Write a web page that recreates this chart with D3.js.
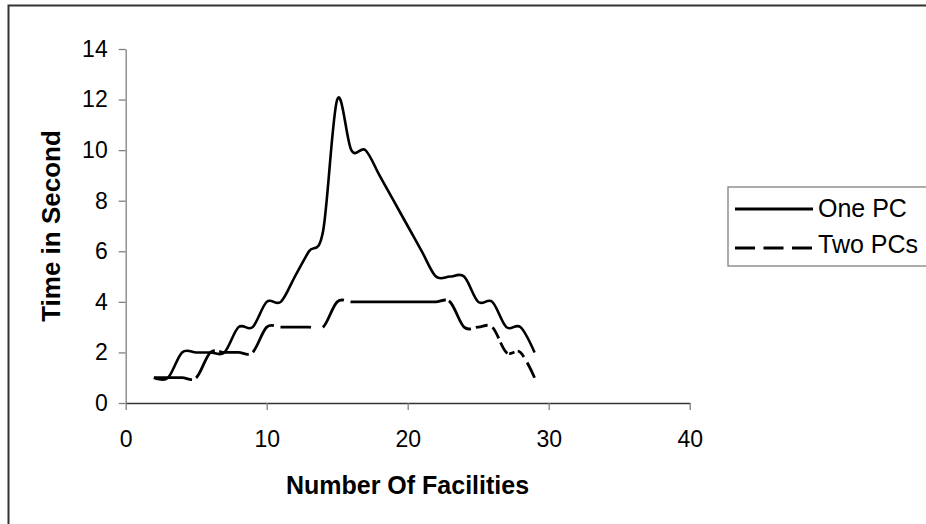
<!DOCTYPE html>
<html>
<head>
<meta charset="utf-8">
<script src="https://cdn.jsdelivr.net/npm/d3@7"></script>
<style>
  body { margin: 0; background: #fff; }
  svg { display: block; }
  text { font-family: "Liberation Sans", Arial, sans-serif; fill: #000; }
</style>
</head>
<body>
<svg id="chart" width="926" height="524"></svg>
<script>
// Run time versus number of facilities, one PC against two PCs
const facilities = d3.range(2, 30);
const onePC  = [1, 1, 2, 2, 2, 2, 3, 3, 4, 4, 5, 6, 6.8, 12, 10, 10, 9, 8, 7, 6, 5, 5, 5, 4, 4, 3, 3, 2];
const twoPCs = [1, 1, 1, 1, 2, 2, 2, 2, 3, 3, 3, 3, 3, 4, 4, 4, 4, 4, 4, 4, 4, 4, 3, 3, 3, 2, 2, 1];
const seriesNames = ["One PC", "Two PCs"];
const xTicks = [0, 10, 20, 30, 40];
const yTicks = [0, 2, 4, 6, 8, 10, 12, 14];

// breaks in the dashed stroke, given as facility ranges along the line
const dashBreaks = [[4.68, 4.98], [6.3, 6.6], [8.7, 9.0], [10.47, 10.94], [13.1, 13.95],
  [15.43, 15.9], [22.65, 22.88], [24.42, 24.77], [25.6, 25.96], [26.43, 26.55],
  [27.02, 27.13], [27.49, 27.73], [28.2, 28.44]];

const svg = d3.select("#chart");

// outer frame
svg.append("rect")
  .attr("x", 8.5).attr("y", 5.5)
  .attr("width", 1000).attr("height", 1000)
  .attr("fill", "none").attr("stroke", "#333").attr("stroke-width", 2);

const x = d3.scaleLinear().domain([0, 40]).range([125.7, 689.7]);
const y = d3.scaleLinear().domain([0, 14]).range([403, 49]);

// y axis
const gy = svg.append("g")
  .attr("transform", `translate(${x(0)},0)`)
  .call(d3.axisLeft(y).tickValues(yTicks).tickSize(7).tickSizeOuter(0).tickPadding(11));
gy.select(".domain").attr("stroke", "#808080").attr("stroke-width", 1.3);
gy.selectAll(".tick line").attr("stroke", "#808080").attr("stroke-width", 1.3);
gy.selectAll(".tick text").attr("font-size", 23).attr("font-family", "Liberation Sans, Arial, sans-serif");

// x axis
const gx = svg.append("g")
  .attr("transform", `translate(0,${y(0)})`)
  .call(d3.axisBottom(x).tickValues(xTicks).tickSize(7).tickSizeOuter(0).tickPadding(21));
gx.select(".domain").attr("stroke", "#333").attr("stroke-width", 1.3);
gx.selectAll(".tick line").attr("stroke", "#808080").attr("stroke-width", 1.3);
gx.selectAll(".tick text").attr("font-size", 23).attr("font-family", "Liberation Sans, Arial, sans-serif");

// axis titles
svg.append("text")
  .attr("x", 407.5).attr("y", 494)
  .attr("text-anchor", "middle")
  .attr("font-size", 25).attr("font-weight", "bold")
  .text("Number Of Facilities");

svg.append("text")
  .attr("transform", `translate(60,${226}) rotate(-90)`)
  .attr("text-anchor", "middle")
  .attr("font-size", 26).attr("font-weight", "bold")
  .text("Time in Second");

const line = d3.line()
  .x(d => x(d[0]))
  .y(d => y(d[1]))
  .curve(d3.curveCatmullRom.alpha(0));

const oneData = facilities.map((f, i) => [f, onePC[i]]);
const twoData = facilities.map((f, i) => [f, twoPCs[i]]);

svg.append("path")
  .datum(oneData)
  .attr("d", line)
  .attr("fill", "none").attr("stroke", "#000").attr("stroke-width", 2.6)
  .attr("stroke-linejoin", "round");

const twoPath = svg.append("path")
  .datum(twoData)
  .attr("d", line)
  .attr("fill", "none").attr("stroke", "#000").attr("stroke-width", 2.8)
  .attr("stroke-linejoin", "round");

// turn the break ranges into a dash array measured along the path
(function applyBreaks(path, breaks) {
  const node = path.node();
  const total = node.getTotalLength();
  const step = 0.25;
  const samples = [];
  for (let l = 0; l <= total; l += step) samples.push([l, node.getPointAtLength(l).x]);
  const lengthAt = px => {
    const s = samples.find(p => p[1] >= px);
    return s ? s[0] : total;
  };
  const dash = [];
  let pos = 0;
  breaks.forEach(([a, b]) => {
    const la = lengthAt(x(a)), lb = lengthAt(x(b));
    dash.push(Math.max(0, la - pos), Math.max(0, lb - la));
    pos = lb;
  });
  dash.push(total - pos + 10, 0);
  path.attr("stroke-dasharray", dash.map(d => d.toFixed(2)).join(","));
})(twoPath, dashBreaks);

// legend
const legend = svg.append("g");
legend.append("rect")
  .attr("x", 728).attr("y", 187)
  .attr("width", 300).attr("height", 79)
  .attr("fill", "#fff").attr("stroke", "#808080").attr("stroke-width", 1.3);

const legendRows = [
  { name: seriesNames[0], dash: null, ly: 209, ty: 217 },
  { name: seriesNames[1], dash: "20,8.5", ly: 248, ty: 253 }
];
legendRows.forEach(r => {
  legend.append("line")
    .attr("x1", 735).attr("x2", 813)
    .attr("y1", r.ly).attr("y2", r.ly)
    .attr("stroke", "#000").attr("stroke-width", 2.8)
    .attr("stroke-dasharray", r.dash);
  legend.append("text")
    .attr("x", 818).attr("y", r.ty)
    .attr("font-size", 25)
    .text(r.name);
});
</script>
</body>
</html>
